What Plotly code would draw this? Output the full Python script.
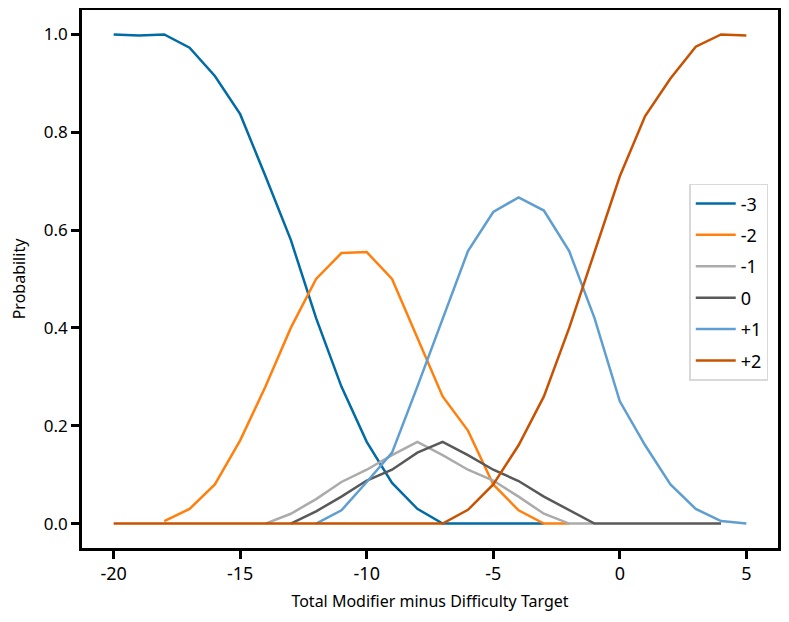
import plotly.graph_objects as go

x_m3 = list(range(-20, -2))
y_m3 = [1.0, 0.998, 1.0, 0.973, 0.915, 0.837, 0.71, 0.58, 0.42, 0.28, 0.167, 0.083, 0.03, 0.0, 0.0, 0.0, 0.0, 0.0]

x_m2 = list(range(-18, -1))
y_m2 = [0.005, 0.03, 0.08, 0.17, 0.28, 0.40, 0.50, 0.553, 0.555, 0.50, 0.38, 0.26, 0.19, 0.08, 0.027, 0.0, 0.0]

x_m1 = list(range(-14, 0))
y_m1 = [0.0, 0.02, 0.05, 0.085, 0.11, 0.14, 0.167, 0.14, 0.11, 0.088, 0.055, 0.02, 0.0, 0.0]

x_0 = list(range(-13, 5))
y_0 = [0.0, 0.025, 0.055, 0.088, 0.11, 0.145, 0.167, 0.14, 0.11, 0.087, 0.055, 0.028, 0.0, 0.0, 0.0, 0.0, 0.0, 0.0]

x_p1 = list(range(-12, 6))
y_p1 = [0.0, 0.027, 0.085, 0.145, 0.28, 0.42, 0.557, 0.637, 0.667, 0.64, 0.557, 0.42, 0.25, 0.16, 0.08, 0.03, 0.005, 0.0]

x_p2 = list(range(-20, 6))
y_p2 = [0.0] * 14 + [0.028, 0.08, 0.16, 0.26, 0.40, 0.557, 0.71, 0.833, 0.91, 0.975, 1.0, 0.998]

names = ["-3", "-2", "-1", "0", "+1", "+2"]
colors = ["#006BA4", "#FF800E", "#ABABAB", "#595959", "#5F9ED1", "#C85200"]
series = [(x_m3, y_m3), (x_m2, y_m2), (x_m1, y_m1), (x_0, y_0), (x_p1, y_p1), (x_p2, y_p2)]

x_ticks = [-20, -15, -10, -5, 0, 5]
y_ticks = [0.0, 0.2, 0.4, 0.6, 0.8, 1.0]

FONT = "Noto Sans"

fig = go.Figure()
for (xs, ys), n, c in zip(series, names, colors):
    fig.add_trace(go.Scatter(x=xs, y=ys, mode="lines", name=n, legendgroup=n,
                             line=dict(color=c, width=2.5)))

fig.update_layout(
    width=773, height=606,
    margin=dict(l=74, r=3, t=2, b=66),
    plot_bgcolor="white", paper_bgcolor="white",
    font=dict(family=FONT, size=16, color="black"),
    showlegend=True,
    legend=dict(x=0.986, y=0.677, xanchor="right", yanchor="top",
                bgcolor="white", bordercolor="#d9d9d9", borderwidth=1.5,
                font=dict(size=18), itemwidth=40, tracegroupgap=5,
                entrywidth=50, entrywidthmode="pixels"),
)
fig.update_xaxes(range=[-21.25, 6.25], tickvals=x_ticks, ticktext=[str(v) for v in x_ticks],
                 automargin=False,
                 showgrid=False, zeroline=False, showline=True, linecolor="black", linewidth=2.5,
                 mirror=True, ticks="outside", ticklen=8, tickwidth=3, tickcolor="black",
                 title=dict(text="Total Modifier minus Difficulty Target", font=dict(size=16), standoff=12),
                 tickfont=dict(size=18))
fig.update_yaxes(range=[-0.05, 1.05], tickvals=y_ticks, ticktext=[f"{v:.1f}" for v in y_ticks],
                 automargin=False,
                 showgrid=False, zeroline=False, showline=True, linecolor="black", linewidth=2.5,
                 mirror=True, ticks="outside", ticklen=8, tickwidth=3, tickcolor="black",
                 title=dict(text="Probability", font=dict(size=16), standoff=16),
                 tickfont=dict(size=17))

fig.write_html("out.html")
